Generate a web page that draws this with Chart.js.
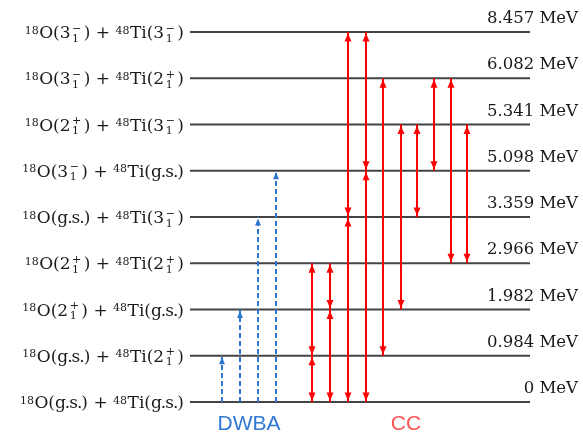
<!DOCTYPE html>
<html>
<head>
<meta charset="utf-8">
<script src="https://cdn.jsdelivr.net/npm/chart.js@4.4.0/dist/chart.umd.min.js"></script>
<style>
  html, body { margin: 0; padding: 0; background: #fff; }
  #levels { display: block; }
</style>
</head>
<body>
<canvas id="levels" width="583" height="436"></canvas>
<script>
// levels 0..8 from bottom to top, evenly spaced
const energies = [0, 0.984, 1.982, 2.966, 3.359, 5.098, 5.341, 6.082, 8.457];
const oStates  = ['g.s.', 'g.s.', '2+', '2+', 'g.s.', '3-', '2+', '3-', '3-'];
const tiStates = ['g.s.', '2+', 'g.s.', '2+', '3-', 'g.s.', '3-', '2+', '3-'];

// one-step excitations out of the ground state
const dwbaTo = [1, 2, 4, 5];
const dwbaX  = [32, 50, 68, 86];

// coupled channels, [lower level, upper level]
const ccLinks = [[0, 1], [1, 3], [0, 2], [2, 3], [0, 4], [4, 8], [0, 5], [5, 8],
                 [1, 7], [2, 6], [4, 6], [5, 7], [3, 7], [3, 6]];
const ccX     = [122, 122, 140, 140, 158, 158, 176, 176, 193, 211, 227, 244, 261, 277];

const groupNames = ['DWBA', 'CC'];

const lineColor = '#444';
const blue = '#2e75d2';
const red = '#ff0000';
const mainFont = '17px "DejaVu Serif"';
const supFont = '11px "DejaVu Serif"';
const energyFont = '16.5px "DejaVu Serif"';

const datasets = [];
energies.forEach((e, i) => {
  datasets.push({
    data: [{x: 0, y: i}, {x: 340, y: i}],
    borderColor: lineColor, borderWidth: 2, order: 3
  });
});
dwbaTo.forEach((lvl, i) => {
  datasets.push({
    data: [{x: dwbaX[i], y: 0}, {x: dwbaX[i], y: lvl}],
    borderColor: blue, borderWidth: 2, borderDash: [5, 3], order: 1,
    heads: 'up'
  });
});
ccLinks.forEach(([a, b], i) => {
  datasets.push({
    data: [{x: ccX[i], y: a}, {x: ccX[i], y: b}],
    borderColor: red, borderWidth: 2, order: 1,
    heads: 'both'
  });
});

function drawHead(ctx, x, tipY, dir, len, half) {
  // dir -1 points up, +1 points down
  ctx.beginPath();
  ctx.moveTo(x, tipY);
  ctx.lineTo(x - half, tipY - dir * len);
  ctx.lineTo(x + half, tipY - dir * len);
  ctx.closePath();
  ctx.fill();
}

const arrowHeads = {
  id: 'arrowHeads',
  afterDatasetsDraw(chart) {
    const ctx = chart.ctx;
    chart.data.datasets.forEach((ds, i) => {
      if (!ds.heads) return;
      const pts = chart.getDatasetMeta(i).data;
      const bot = pts[0], top = pts[1];
      ctx.save();
      ctx.fillStyle = ds.borderColor;
      if (ds.heads === 'up') {
        drawHead(ctx, top.x, top.y + 1.5, -1, 7, 3);
      } else {
        drawHead(ctx, top.x, top.y + 1.5, -1, 8, 3.5);
        drawHead(ctx, bot.x, bot.y - 1.5, 1, 8, 3.5);
      }
      ctx.restore();
    });
  }
};

// state label pieces: superscript mass numbers, J^pi with subscript 1
function stateParts(s) {
  if (s === 'g.s.') return [{t: 'g.s.', tight: true}];
  return [{t: s[0]}, {stack: [s[1] === '+' ? '+' : '\u2212', '1']}];
}
function labelParts(i) {
  return [{t: '18', sup: true}, {t: 'O('}, ...stateParts(oStates[i]), {t: ') + '},
          {t: '48', sup: true}, {t: 'Ti('}, ...stateParts(tiStates[i]), {t: ')'}];
}
function setFont(ctx, p) {
  ctx.font = (p.sup || p.stack) ? supFont : mainFont;
  ctx.letterSpacing = p.tight ? '-1px' : '0px';
}
function partWidth(ctx, p) {
  setFont(ctx, p);
  if (p.stack) return Math.max(...p.stack.map(s => ctx.measureText(s).width)) + 4;
  return ctx.measureText(p.t).width + (p.sup ? 0.5 : 0);
}
function drawParts(ctx, parts, right, base) {
  const w = parts.map(p => partWidth(ctx, p));
  let x = right - w.reduce((a, b) => a + b, 0);
  parts.forEach((p, k) => {
    setFont(ctx, p);
    if (p.stack) {
      ctx.fillText(p.stack[0], x + 1.5, base - 6.5);
      ctx.fillText(p.stack[1], x + 1.5, base + 3.5);
    } else if (p.sup) {
      ctx.fillText(p.t, x, base - 4.5);
    } else {
      ctx.fillText(p.t, x, base);
    }
    x += w[k];
  });
  ctx.letterSpacing = '0px';
}

const labels = {
  id: 'labels',
  afterDraw(chart) {
    const ctx = chart.ctx;
    const xs = chart.scales.x, ys = chart.scales.y;
    ctx.save();
    ctx.fillStyle = '#1a1a1a';
    ctx.textAlign = 'left';
    ctx.textBaseline = 'alphabetic';
    energies.forEach((e, i) => {
      drawParts(ctx, labelParts(i), xs.left - 6, ys.getPixelForValue(i) + 6);
    });
    ctx.font = energyFont;
    ctx.textAlign = 'right';
    energies.forEach((e, i) => {
      ctx.fillText(e + ' MeV', xs.right + 48, ys.getPixelForValue(i) - 9);
    });
    ctx.font = '21px "Liberation Sans"';
    ctx.textAlign = 'center';
    const base = ys.getPixelForValue(0) + 28;
    ctx.fillStyle = '#2f78d3';
    ctx.fillText(groupNames[0], xs.getPixelForValue(59), base);
    ctx.fillStyle = '#ff5454';
    ctx.fillText(groupNames[1], xs.getPixelForValue(216), base);
    ctx.restore();
  }
};

new Chart('levels', {
  type: 'scatter',
  data: {
    datasets: datasets.map(d => Object.assign({showLine: true, pointRadius: 0, clip: false}, d))
  },
  options: {
    responsive: false,
    devicePixelRatio: 1,
    animation: false,
    events: [],
    layout: {padding: {left: 190, right: 53, top: 32, bottom: 34}},
    scales: {
      x: {type: 'linear', min: 0, max: 340, display: false},
      y: {type: 'linear', min: 0, max: 8, display: false}
    },
    plugins: {legend: {display: false}, tooltip: {enabled: false}}
  },
  plugins: [arrowHeads, labels]
});
</script>
</body>
</html>
